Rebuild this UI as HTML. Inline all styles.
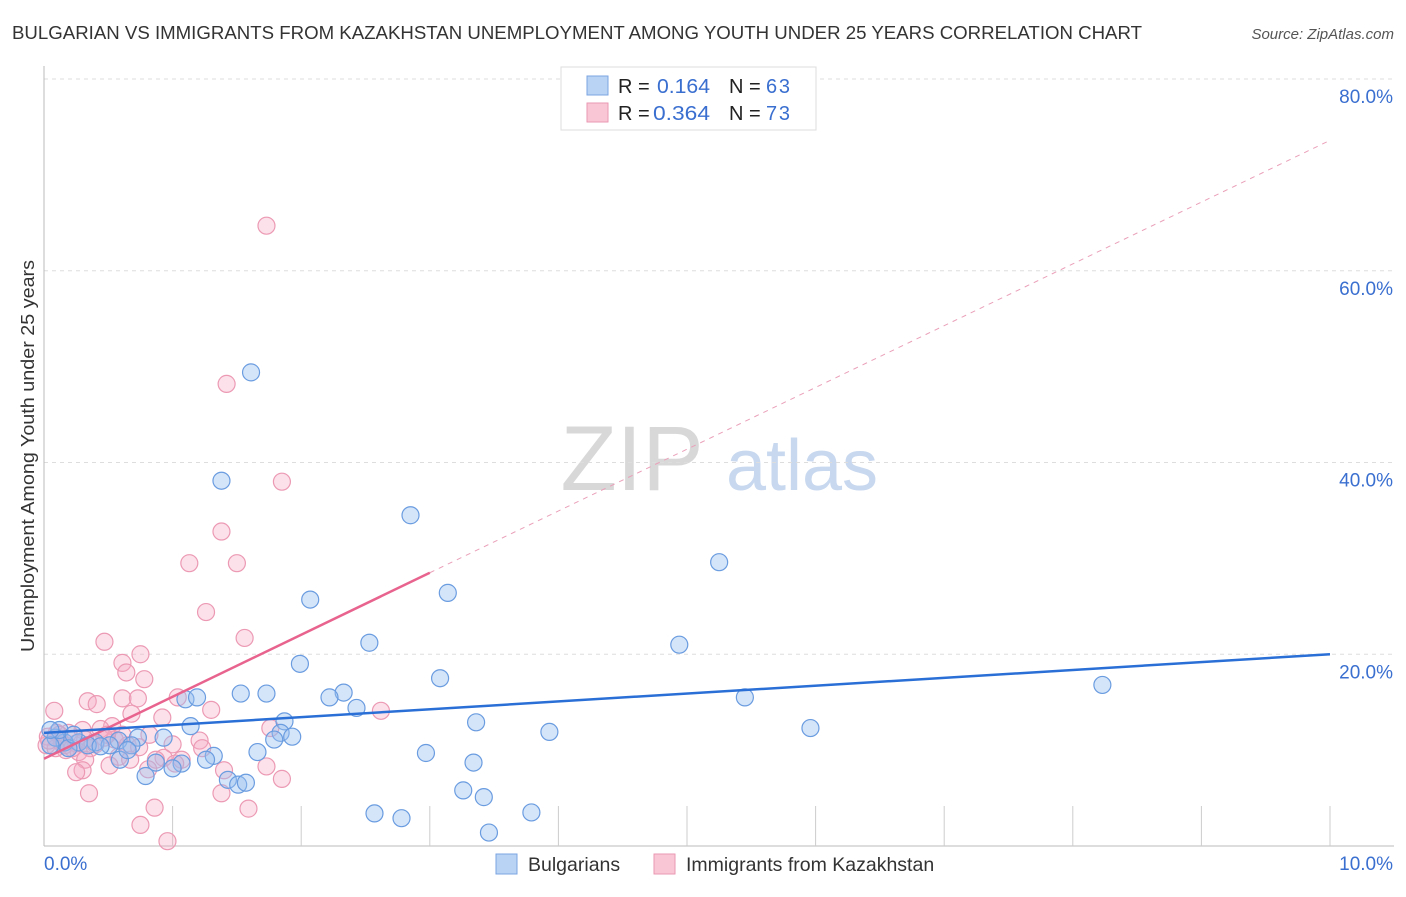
<!DOCTYPE html>
<html><head><meta charset="utf-8"><style>
body{margin:0;background:#fff;font-family:"Liberation Sans",sans-serif;}
svg text{font-family:"Liberation Sans",sans-serif;}
</style></head><body>
<svg id="chart" width="1406" height="892" xmlns="http://www.w3.org/2000/svg">
<text x="12" y="39" font-size="18" fill="#333" textLength="1130" lengthAdjust="spacingAndGlyphs">BULGARIAN VS IMMIGRANTS FROM KAZAKHSTAN UNEMPLOYMENT AMONG YOUTH UNDER 25 YEARS CORRELATION CHART</text>
<text x="1394" y="39" font-size="15" fill="#555" font-style="italic" text-anchor="end">Source: ZipAtlas.com</text>
<text transform="translate(34,456) rotate(-90)" font-size="18" fill="#333" text-anchor="middle" textLength="392" lengthAdjust="spacingAndGlyphs">Unemployment Among Youth under 25 years</text>
<g>
<text x="632" y="490" font-size="92" fill="#d8d8d8" font-family="Liberation Serif,serif" text-anchor="middle">ZIP</text>
<text x="802" y="490" font-size="72" fill="#c8d8ef" text-anchor="middle">atlas</text>
</g>
<g id="grid"></g>
<g id="axes"></g>
<g id="points"></g>
<g id="trends"></g>
<g>
<rect x="561" y="67" width="255" height="63" fill="#fff" stroke="#ddd"/>
<rect x="587" y="76" width="21" height="19" fill="#b9d3f5" stroke="#7aa5e0"/>
<text x="618" y="93" font-size="20" fill="#222">R = </text><text x="657" y="93" font-size="20" fill="#3a6fd0" textLength="53" lengthAdjust="spacingAndGlyphs">0.164</text>
<text x="729" y="93" font-size="20" fill="#222">N = </text><text x="766" y="93" font-size="20" fill="#3a6fd0" textLength="24">63</text>
<rect x="587" y="103" width="21" height="19" fill="#f9c6d5" stroke="#ea9ab3"/>
<text x="618" y="120" font-size="20" fill="#222">R = </text><text x="653" y="120" font-size="20" fill="#3a6fd0" textLength="57" lengthAdjust="spacingAndGlyphs">0.364</text>
<text x="729" y="120" font-size="20" fill="#222">N = </text><text x="766" y="120" font-size="20" fill="#3a6fd0" textLength="24">73</text>
</g>
<g>
<rect x="496" y="854" width="21" height="20" fill="#b9d3f5" stroke="#7aa5e0"/>
<text x="528" y="871" font-size="19.5" fill="#333">Bulgarians</text>
<rect x="654" y="854" width="21" height="20" fill="#f9c6d5" stroke="#ea9ab3"/>
<text x="686" y="871" font-size="19.5" fill="#333">Immigrants from Kazakhstan</text>
</g>
</svg>
<script>
const yTicks=[20,40,60,80];
const yTickLabels=["20.0%","40.0%","60.0%","80.0%"];
const xTicks=[1,2,3,4,5,6,7,8,9,10];
const xEndLabels=["0.0%","10.0%"];
const blueX=[1.61,1.38,2.85,5.25,3.14,2.07,4.94,2.53,1.99,8.23,3.08,5.45,1.53,1.73,2.33,2.22,1.10,1.19,2.43,3.36,1.87,5.96,3.93,1.14,1.84,1.93,1.79,0.93,0.73,0.58,0.40,0.51,0.68,0.27,0.16,0.09,0.05,0.19,0.34,0.44,1.66,1.32,2.97,1.26,1.07,1.00,3.34,0.79,1.43,1.51,1.57,3.26,3.42,2.57,2.78,3.79,3.46,0.12,0.05,0.23,0.59,0.87,0.65];
const blueY=[49.4,38.1,34.5,29.6,26.4,25.7,21.0,21.2,19.0,16.8,17.5,15.5,15.9,15.9,16.0,15.5,15.3,15.5,14.4,12.9,13.0,12.3,11.9,12.5,11.8,11.4,11.1,11.3,11.3,11.0,10.8,10.5,10.5,10.8,10.8,11.3,10.5,10.2,10.5,10.4,9.8,9.4,9.7,9.0,8.6,8.1,8.7,7.3,6.9,6.4,6.6,5.8,5.1,3.4,2.9,3.5,1.4,12.1,12.1,11.6,9.0,8.7,10.0];
const pinkX=[1.73,1.42,1.85,1.38,1.50,1.13,1.26,1.56,0.47,0.75,0.61,0.64,0.78,0.61,0.73,0.34,0.41,0.08,1.30,2.62,1.04,0.68,0.92,1.76,0.53,0.44,0.30,0.19,0.10,0.03,0.02,0.14,0.25,0.32,0.36,0.55,0.47,0.82,0.65,0.74,1.21,1.23,1.00,0.17,0.27,0.93,0.58,0.51,0.32,0.30,0.25,0.67,1.07,1.02,1.73,0.87,0.81,1.40,1.85,0.35,1.38,0.86,1.59,0.75,0.96,0.12,0.16,0.22,0.09,0.04,0.40,0.61,0.49];
const pinkY=[64.7,48.2,38.0,32.8,29.5,29.5,24.4,21.7,21.3,20.0,19.1,18.1,17.4,15.4,15.4,15.1,14.8,14.1,14.2,14.1,15.5,13.8,13.4,12.3,12.5,12.2,12.1,11.8,11.8,11.4,10.5,10.7,10.7,11.1,10.2,11.1,11.3,11.6,10.5,10.3,11.0,10.2,10.6,10.0,9.8,9.2,9.3,8.4,9.0,7.9,7.7,9.0,9.0,8.6,8.3,9.0,8.0,7.9,7.0,5.5,5.5,4.0,3.9,2.2,0.5,11.6,10.5,10.2,10.2,11.0,10.6,11.6,11.6];
const blueTrend=[[0,11.8],[10,20.0]];
const pinkTrendSolid=[[0,9.1],[3.0,28.5]];
const pinkTrendDash=[[3.0,28.5],[10,73.6]];

const NS="http://www.w3.org/2000/svg";
const X0=44,X1=1330,Y0=846,PXPER=9.5875;
function sx(v){return X0+(X1-X0)*v/10;}
function sy(v){return Y0-v*PXPER;}
function mk(tag,attrs,parent){const e=document.createElementNS(NS,tag);for(const k in attrs)e.setAttribute(k,attrs[k]);parent.appendChild(e);return e;}
const grid=document.getElementById('grid'),axes=document.getElementById('axes'),pts=document.getElementById('points'),tr=document.getElementById('trends');
yTicks.forEach((t,i)=>{
  const l=mk('line',{x1:X0,x2:1394,y1:sy(t),y2:sy(t),stroke:'#ddd','stroke-dasharray':'4,4'},grid);
  
  
  const tx=mk('text',{x:1393,y:sy(t)+24,'font-size':19,fill:'#3a6fd0','text-anchor':'end'},axes);
  tx.textContent=yTickLabels[i];
  
  
});
const ax=mk('line',{x1:X0,x2:X0,y1:66,y2:Y0,stroke:'#bbb'},axes);


const bx=mk('line',{x1:X0,x2:1394,y1:Y0,y2:Y0,stroke:'#bbb'},axes);


xTicks.forEach(t=>{
  const l=mk('line',{x1:sx(t),x2:sx(t),y1:Y0-40,y2:Y0,stroke:'#ccc'},axes);
  
  
});
const xl0=mk('text',{x:44,y:870,'font-size':19,fill:'#3a6fd0'},axes);xl0.textContent=xEndLabels[0];


const xl1=mk('text',{x:1393,y:870,'font-size':19,fill:'#3a6fd0','text-anchor':'end'},axes);xl1.textContent=xEndLabels[1];


pinkX.forEach((x,i)=>{
  const c=mk('circle',{cx:sx(x),cy:sy(pinkY[i]),r:8.5,fill:'rgba(246,170,195,0.35)',stroke:'#ec9ab4','stroke-width':1.2},pts);
  
  
});
blueX.forEach((x,i)=>{
  const c=mk('circle',{cx:sx(x),cy:sy(blueY[i]),r:8.5,fill:'rgba(150,190,240,0.4)',stroke:'#6a9ce0','stroke-width':1.2},pts);
  
  
});
function line(p,color,w,dash,name){
  const l=mk('line',{x1:sx(p[0][0]),y1:sy(p[0][1]),x2:sx(p[1][0]),y2:sy(p[1][1]),stroke:color,'stroke-width':w},tr);
  if(dash)l.setAttribute('stroke-dasharray',dash);
  
  
}
line(pinkTrendDash,'#eaa0b8',1,'5,5','trend-kazakhstan-extension');
line(pinkTrendSolid,'#e8648f',2.5,null,'trend-kazakhstan');
line(blueTrend,'#2a6fd6',2.5,null,'trend-bulgarians');
</script>
</body></html>
